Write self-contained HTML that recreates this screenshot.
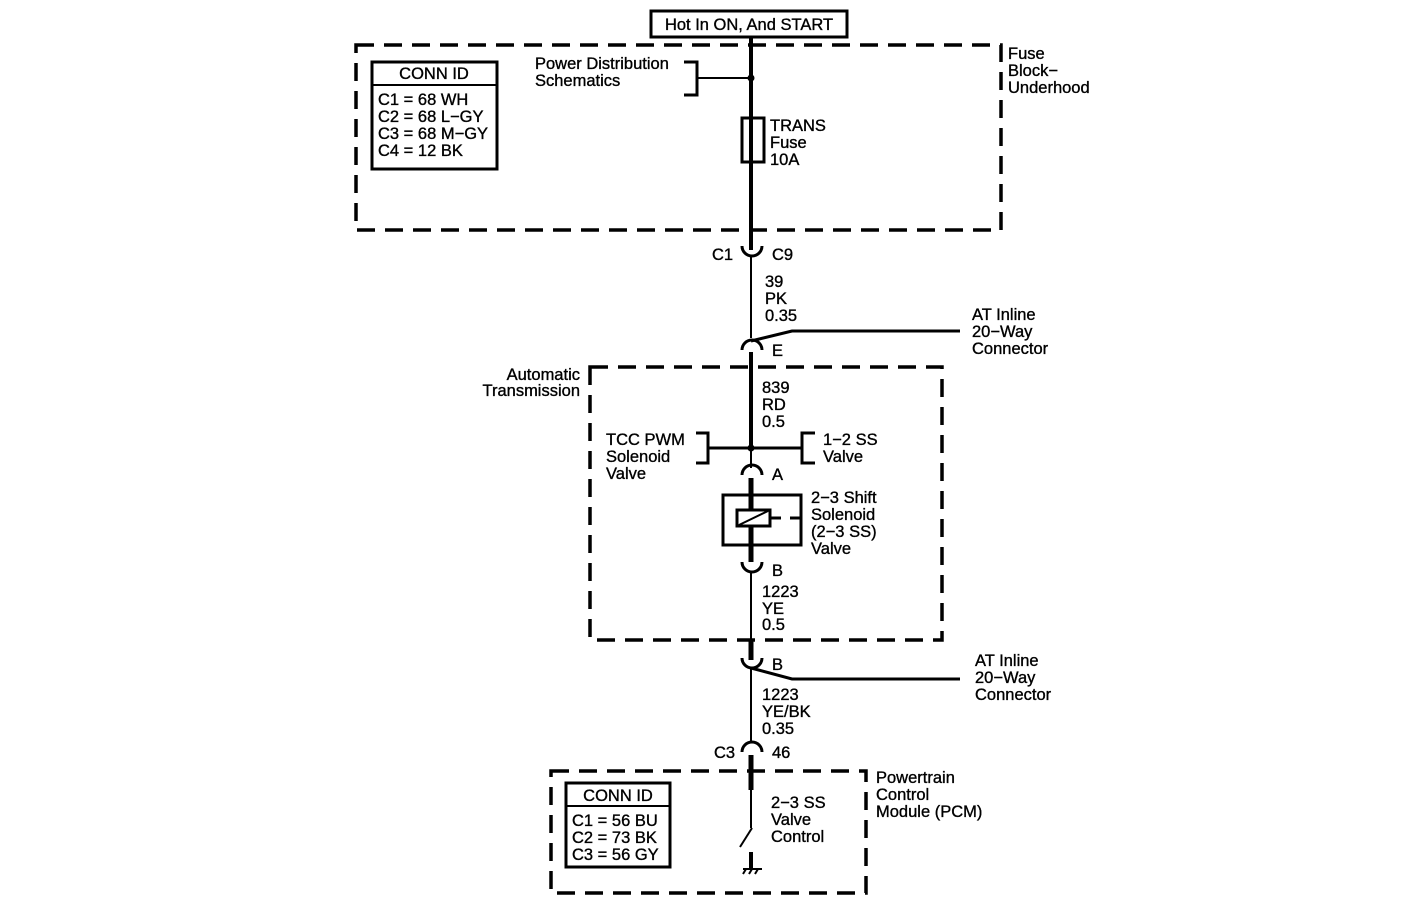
<!DOCTYPE html>
<html><head><meta charset="utf-8"><style>
html,body{margin:0;padding:0;background:#fff;}
svg{display:block;}
text{font-family:"Liberation Sans",sans-serif;font-size:16.5px;fill:#000;stroke:#000;stroke-width:0.35;}
</style></head><body>
<svg width="1408" height="920" viewBox="0 0 1408 920" xmlns="http://www.w3.org/2000/svg">
<g fill="none" stroke="#000">
<g stroke-width="3.5" stroke-dasharray="18,10">
<rect x="356" y="45" width="645" height="185"/>
<rect x="590" y="367" width="352" height="273"/>
<rect x="551" y="771" width="315" height="122"/>
</g>
<rect x="651" y="11" width="196" height="26" stroke-width="3"/>
<rect x="372" y="62" width="125" height="107" stroke-width="3"/>
<line x1="372" y1="85" x2="497" y2="85" stroke-width="2"/>
<rect x="566" y="783" width="104" height="84" stroke-width="3"/>
<line x1="566" y1="806" x2="670" y2="806" stroke-width="2"/>
<line x1="751" y1="37" x2="751" y2="250" stroke-width="4"/>
<circle cx="751" cy="78" r="3" fill="#000"/>
<line x1="697" y1="78" x2="751" y2="78" stroke-width="2"/>
<polyline points="684,62 697,62 697,95 684,95" stroke-width="3"/>
<rect x="742" y="118" width="22" height="44" stroke-width="3" fill="#fff"/>
<line x1="751" y1="118" x2="751" y2="162" stroke-width="4"/>
<path d="M742,246 A10,10 0 0 0 762,246" stroke-width="3"/>
<line x1="751" y1="256" x2="751" y2="338" stroke-width="2"/>
<path d="M742,350 A10,10 0 0 1 762,350" stroke-width="3"/>
<polyline points="751,341 792,331 960,331" stroke-width="3"/>
<line x1="751" y1="352" x2="751" y2="448" stroke-width="4"/>
<line x1="708" y1="448" x2="802" y2="448" stroke-width="3"/>
<circle cx="751" cy="448" r="3" fill="#000"/>
<polyline points="696,433 708,433 708,463 696,463" stroke-width="3"/>
<polyline points="815,433 802,433 802,463 815,463" stroke-width="3"/>
<line x1="751" y1="448" x2="751" y2="468" stroke-width="2"/>
<path d="M742,475 A10,10 0 0 1 762,475" stroke-width="3"/>
<line x1="751" y1="478" x2="751" y2="562" stroke-width="5"/>
<rect x="723" y="495" width="78" height="50" stroke-width="3"/>
<rect x="737" y="510" width="33" height="16" stroke-width="3" fill="#fff"/>
<line x1="739" y1="525" x2="768" y2="511" stroke-width="2"/>
<line x1="770" y1="518" x2="781" y2="518" stroke-width="3"/>
<line x1="790" y1="518" x2="801" y2="518" stroke-width="3"/>
<path d="M742,562 A10,10 0 0 0 762,562" stroke-width="3"/>
<line x1="751" y1="572" x2="751" y2="640" stroke-width="2"/>
<line x1="751" y1="640" x2="751" y2="660" stroke-width="5"/>
<path d="M742,658 A10,10 0 0 0 762,658" stroke-width="3"/>
<polyline points="751,668 792,679 960,679" stroke-width="3"/>
<line x1="751" y1="668" x2="751" y2="742" stroke-width="2"/>
<path d="M742,752 A10,10 0 0 1 762,752" stroke-width="3"/>
<line x1="751" y1="755" x2="751" y2="790" stroke-width="5"/>
<line x1="751" y1="790" x2="751" y2="828" stroke-width="2"/>
<line x1="752" y1="828" x2="740" y2="847" stroke-width="2"/>
<line x1="751" y1="852" x2="751" y2="869" stroke-width="4"/>
<line x1="743" y1="869" x2="762" y2="869" stroke-width="2"/>
<line x1="746" y1="869" x2="743" y2="874" stroke-width="2"/>
<line x1="752" y1="869" x2="749" y2="874" stroke-width="2"/>
<line x1="758" y1="869" x2="755" y2="874" stroke-width="2"/>
</g>
<text x="749" y="30" text-anchor="middle">Hot In ON, And START</text>
<text x="434" y="79" text-anchor="middle">CONN ID</text>
<text x="378" y="105">C1 = 68 WH</text>
<text x="378" y="122">C2 = 68 L−GY</text>
<text x="378" y="139">C3 = 68 M−GY</text>
<text x="378" y="156">C4 = 12 BK</text>
<text x="535" y="69">Power Distribution</text>
<text x="535" y="86">Schematics</text>
<text x="1008" y="59">Fuse</text>
<text x="1008" y="76">Block−</text>
<text x="1008" y="93">Underhood</text>
<text x="770" y="131">TRANS</text>
<text x="770" y="148">Fuse</text>
<text x="770" y="165">10A</text>
<text x="712" y="260">C1</text>
<text x="772" y="260">C9</text>
<text x="765" y="287">39</text>
<text x="765" y="304">PK</text>
<text x="765" y="321">0.35</text>
<text x="972" y="320">AT Inline</text>
<text x="972" y="337">20−Way</text>
<text x="972" y="354">Connector</text>
<text x="772" y="356">E</text>
<text x="580" y="380" text-anchor="end">Automatic</text>
<text x="580" y="396" text-anchor="end">Transmission</text>
<text x="762" y="393">839</text>
<text x="762" y="410">RD</text>
<text x="762" y="427">0.5</text>
<text x="606" y="445">TCC PWM</text>
<text x="606" y="462">Solenoid</text>
<text x="606" y="479">Valve</text>
<text x="823" y="445">1−2 SS</text>
<text x="823" y="462">Valve</text>
<text x="772" y="480">A</text>
<text x="811" y="503">2−3 Shift</text>
<text x="811" y="520">Solenoid</text>
<text x="811" y="537">(2−3 SS)</text>
<text x="811" y="554">Valve</text>
<text x="772" y="576">B</text>
<text x="762" y="597">1223</text>
<text x="762" y="614">YE</text>
<text x="762" y="630">0.5</text>
<text x="772" y="670">B</text>
<text x="975" y="666">AT Inline</text>
<text x="975" y="683">20−Way</text>
<text x="975" y="700">Connector</text>
<text x="762" y="700">1223</text>
<text x="762" y="717">YE/BK</text>
<text x="762" y="734">0.35</text>
<text x="714" y="758">C3</text>
<text x="772" y="758">46</text>
<text x="876" y="783">Powertrain</text>
<text x="876" y="800">Control</text>
<text x="876" y="817">Module (PCM)</text>
<text x="771" y="808">2−3 SS</text>
<text x="771" y="825">Valve</text>
<text x="771" y="842">Control</text>
<text x="618" y="801" text-anchor="middle">CONN ID</text>
<text x="572" y="826">C1 = 56 BU</text>
<text x="572" y="843">C2 = 73 BK</text>
<text x="572" y="860">C3 = 56 GY</text>
</svg>
</body></html>
